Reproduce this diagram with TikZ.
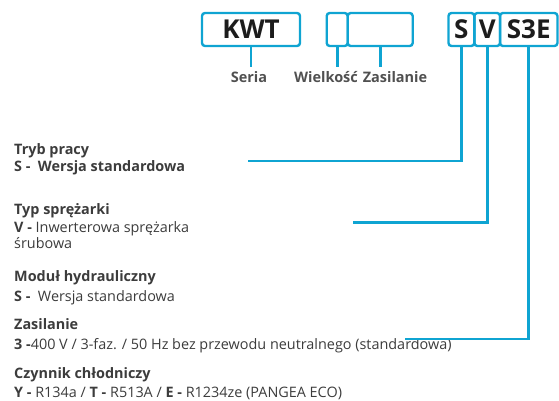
\documentclass[tikz,border=0pt]{standalone}
\usepackage{fontspec}
\setmainfont{Open Sans}
\usepackage{xcolor}
\usepackage{tikz}
\usetikzlibrary{positioning}
\definecolor{codeblue}{HTML}{0FA4D2}
\definecolor{codeink}{HTML}{1C1C1C}
\definecolor{textmain}{HTML}{3C3C3C}
\definecolor{textsub}{HTML}{505050}

\tikzset{
  codebox/.style={draw=codeblue, line width=2.4pt, rounded corners=3pt, inner sep=0pt,
    minimum height=33pt, font=\fontsize{26}{30}\selectfont\bfseries\color{codeink}},
  lead/.style={codeblue, line width=2.6pt},
  partlabel/.style={anchor=base, inner sep=0pt, text height=11pt,
    font=\fontsize{14.5}{17}\selectfont\bfseries\color{textsub}},
  desc/.style={anchor=base west, inner sep=0pt, font=\fontsize{14.4}{17}\selectfont\color{textmain}},
}

\begin{document}
\begin{tikzpicture}[x=1pt, y=-1pt]
\useasboundingbox (0,0) rectangle (559,401);

% Code boxes
\node[codebox, minimum width=98pt] (kwt) at (251, 29.5) {KWT};
\node[codebox, minimum width=21pt] (wiel) at (337.2, 29.5) {};
\node[codebox, minimum width=65pt] (zasbox) at (380.2, 29.5) {};
\node[codebox, minimum width=25.8pt] (sbox) at (461.4, 29.5) {S};
\node[codebox, minimum width=25.7pt] (vbox) at (487.2, 29.5) {V};
\node[codebox, minimum width=57.5pt] (s3ebox) at (528.7, 29.5) {S3E};

% Labels under the boxes
\node[partlabel] (seria) at (249, 82.5) {Seria};
\node[partlabel] (wlab) at (326, 82.5) {Wielkość};
\node[partlabel] (zlab) at (395, 82.5) {Zasilanie};

\draw[lead, shorten >=4pt] (kwt.south) -- (kwt.south |- seria.north);
\draw[lead, shorten >=4pt] (wiel.south) -- (wiel.south |- wlab.north);
\draw[lead, shorten >=4pt] (zasbox.south) -- (zasbox.south |- zlab.north);

% Descriptions
\node[desc] (tryb) at (14, 154) {\bfseries Tryb pracy};
\node[desc] (trybval) at (14, 171) {\bfseries S -\ \ Wersja standardowa};

\node[desc] (typ) at (14, 214) {\bfseries Typ sprężarki};
\node[desc] (typval) at (14, 232) {\textbf{V -} Inwerterowa sprężarka};
\node[desc] (typval2) at (14, 248) {śrubowa};

\node[desc] (modul) at (14, 281) {\bfseries Moduł hydrauliczny};
\node[desc] (modulval) at (14, 301) {\textbf{S -}\ \ Wersja standardowa};

\node[desc] (zas) at (14, 329) {\bfseries Zasilanie};
\node[desc] (zasval) at (14, 349) {\textbf{3 -}400 V / 3-faz. / 50 Hz bez przewodu neutralnego (standardowa)};

\node[desc] (czyn) at (14, 378) {\bfseries Czynnik chłodniczy};
\node[desc] (czynval) at (14, 397) {\textbf{Y -} R134a / \textbf{T -} R513A / \textbf{E -} R1234ze (PANGEA ECO)};

% Leads to the descriptions
\coordinate (trybend) at (247.5, 161);
\coordinate (sprend) at (352.5, 222.5);
\coordinate (zasend) at (405, 339);
\draw[lead] (sbox.south) |- (trybend);
\draw[lead] (vbox.south) |- (sprend);
\draw[lead] (s3ebox.south) |- (zasend);

\end{tikzpicture}
\end{document}
